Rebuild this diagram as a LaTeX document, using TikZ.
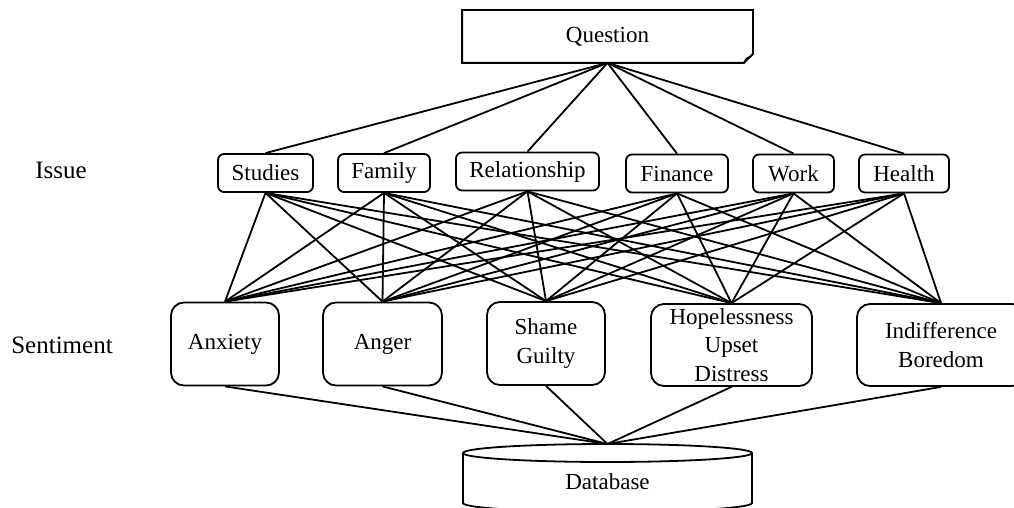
\documentclass[tikz,border=0pt]{standalone}
\usepackage{fontspec}
\setmainfont{Liberation Serif}
\begin{document}
\begin{tikzpicture}[x=1pt,y=-1pt,
  line width=1.8pt,
  txt/.style={font=\fontsize{23}{28.5}\selectfont, align=center, inner sep=0pt},
  lbl/.style={font=\fontsize{25}{30}\selectfont, inner sep=0pt},
  issue/.style={txt, draw, rounded corners=6pt, minimum height=38pt},
  senti/.style={txt, draw, rounded corners=13pt, minimum height=83pt},
  link/.style={line width=1.8pt}]
\useasboundingbox (0,0) rectangle (1014,508);
\clip (0,0) rectangle (1014,508);

% question (document shape)
\node[txt, minimum width=289pt, minimum height=51pt] (q) at (607.5,36.5) {Question};
\draw (q.north west) -- (q.north east) -- ([yshift=9pt]q.south east)
  -- ([xshift=-9pt]q.south east) -- (q.south west) -- cycle;
\draw ([xshift=-9pt]q.south east) .. controls ([xshift=-6pt,yshift=5pt]q.south east) .. ([xshift=-3pt,yshift=6pt]q.south east)
  -- ([yshift=9pt]q.south east);

% issues
\node[issue, minimum width=95pt]  (studies) at (265.5,173) {Studies};
\node[issue, minimum width=92pt]  (family)  at (384,173)   {Family};
\node[issue, minimum width=143pt] (rel)     at (527.5,171.5) {Relationship};
\node[issue, minimum width=102pt] (fin)     at (677,173.5) {Finance};
\node[issue, minimum width=81pt]  (work)    at (793.5,173.5) {Work};
\node[issue, minimum width=90pt]  (health)  at (904,173.5) {Health};

% sentiments
\node[senti, minimum width=108pt] (anx)  at (225,344)   {Anxiety};
\node[senti, minimum width=119pt] (ang)  at (382.5,344) {Anger};
\node[senti, minimum width=118pt] (sham) at (546,343.5) {Shame\\Guilty};
\node[senti, minimum width=161pt, minimum height=82pt] (hope) at (731.5,345) {Hopelessness\\Upset\\Distress};
\node[senti, minimum width=168pt, minimum height=82pt] (indi) at (941,345) {Indifference\\Boredom};

% row labels
\node[lbl] (lissue) at (61,170) {Issue};
\node[lbl] (lsent)  at (62,345) {Sentiment};

% database (cylinder)
\node[txt, minimum width=289pt, minimum height=50pt] (db) at (607.5,482) {Database};
\coordinate (dbtop) at (607.5,444);
\draw (607.5,453) ellipse [x radius=144.5pt, y radius=9pt];
\draw (463,453) -- (463,503) arc[start angle=180, end angle=360, x radius=144.5pt, y radius=9pt] -- (752,453);

% question to issues
\foreach \n in {studies,family,rel,fin,work,health}
  \draw[link] (q.south) -- (\n.north);

% issues to sentiments
\foreach \i in {studies,family,rel,fin,work,health}
  \foreach \s in {anx,ang,sham,hope,indi}
    \draw[link] (\i.south) -- (\s.north);

% sentiments to database
\foreach \s in {anx,ang,sham,hope,indi}
  \draw[link] (\s.south) -- (dbtop);
\end{tikzpicture}
\end{document}
